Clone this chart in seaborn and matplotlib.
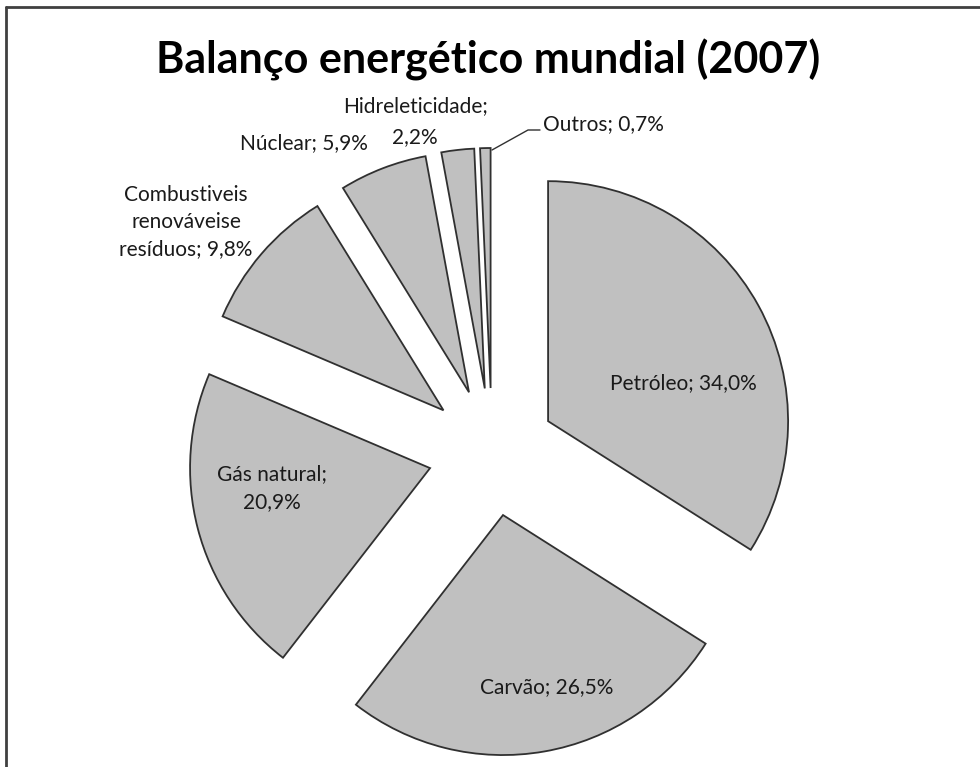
import matplotlib
matplotlib.use("Agg")
import matplotlib.pyplot as plt
from matplotlib.lines import Line2D
import seaborn as sns

categories = ["Petróleo", "Carvão", "Gás natural", "Combustiveis\nrenováveise\nresíduos",
              "Núclear", "Hidreleticidade", "Outros"]
values = [34.0, 26.5, 20.9, 9.8, 5.9, 2.2, 0.7]
label_texts = ["Petróleo; 34,0%", "Carvão; 26,5%", "Gás natural;\n20,9%",
               "Combustiveis\nrenováveise\nresíduos; 9,8%", "Núclear; 5,9%",
               "Hidreleticidade;\n2,2%", "Outros; 0,7%"]
title = "Balanço energético mundial (2007)"

sns.set_theme(style="white")
plt.rcParams['font.family'] = ['Lato', 'DejaVu Sans']

W, H = 980, 767
fig = plt.figure(figsize=(W / 100, H / 100), dpi=100)
fig.patch.set_facecolor("white")
ax = fig.add_axes([0, 0, 1, 1])

def py(y):
    return H - y

cx, cy, R = 492, 452, 240
explode = [64] * len(values)
colors = ["#c0c0c0"] * len(values)

wedges, _ = ax.pie(values, explode=explode, colors=colors, startangle=90,
                   counterclock=False, radius=R, center=(cx, py(cy)),
                   wedgeprops=dict(edgecolor="#303030", linewidth=1.3),
                   frame=True)
ax.set_xlim(0, W)
ax.set_ylim(0, H)
ax.axis("off")

fs = 15
tc = "#1a1a1a"
pos = [(683, 383), (547, 687), (272, 488), (186, 222), (304, 143)]
for (x, y), t in zip(pos, label_texts[:5]):
    ax.text(x, py(y), t, ha="center", va="center", fontsize=fs, color=tc,
            linespacing=1.45)

# Hidreleticidade label, one text per line
for i, line in enumerate(label_texts[5].split("\n")):
    ax.text(415, py(106 + 31 * i), line, ha="center", va="center",
            fontsize=fs, color=tc)

# Outros label with leader line
ax.plot([492, 528, 540], [py(150), py(130), py(130)], color="#303030", lw=1.0)
ax.text(543, py(124), label_texts[6], ha="left", va="center", fontsize=fs, color=tc)

ax.text(488, py(60), title, ha="center", va="center", fontsize=31,
        fontweight="bold", color="black")

# chart border (top and left visible)
fig.add_artist(Line2D([6 / W, 6 / W], [0, 1 - 7 / H], transform=fig.transFigure,
                      color="#404040", lw=2))
fig.add_artist(Line2D([6 / W, 1], [1 - 7 / H, 1 - 7 / H], transform=fig.transFigure,
                      color="#404040", lw=2))

fig.savefig("out.png", dpi=100, facecolor="white")
